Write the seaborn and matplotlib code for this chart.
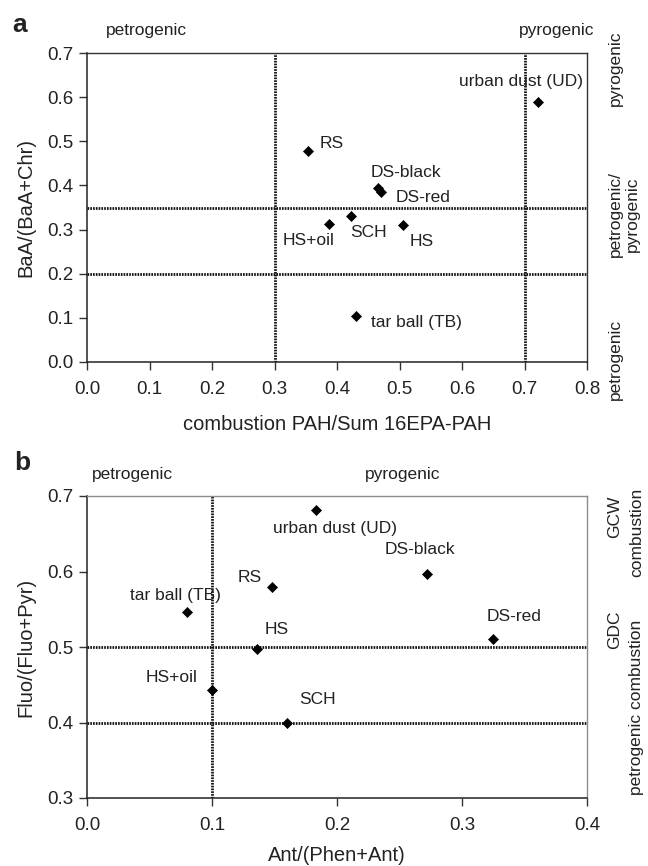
import numpy as np
import pandas as pd
import matplotlib
matplotlib.use("Agg")
import matplotlib.pyplot as plt
import seaborn as sns

samples = ['urban dust (UD)', 'RS', 'DS-black', 'DS-red', 'HS+oil', 'SCH', 'HS', 'tar ball (TB)']
# panel a
combustion_ratio = [0.722, 0.354, 0.465, 0.470, 0.387, 0.422, 0.506, 0.430]
baa_ratio = [0.590, 0.478, 0.394, 0.384, 0.313, 0.331, 0.310, 0.104]
# panel b
ant_ratio = [0.183, 0.148, 0.272, 0.325, 0.100, 0.160, 0.136, 0.080]
fluo_ratio = [0.681, 0.580, 0.597, 0.511, 0.443, 0.400, 0.498, 0.547]

# threshold lines
a_vlines = [0.3, 0.7]
a_hlines = [0.35, 0.2]
b_vlines = [0.1]
b_hlines = [0.5, 0.4]

a_xticks = [0.0, 0.1, 0.2, 0.3, 0.4, 0.5, 0.6, 0.7, 0.8]
a_yticks = [0.0, 0.1, 0.2, 0.3, 0.4, 0.5, 0.6, 0.7]
b_xticks = [0.0, 0.1, 0.2, 0.3, 0.4]
b_yticks = [0.3, 0.4, 0.5, 0.6, 0.7]

# where each sample name is written (data coords, text centre)
a_label_pos = {'urban dust (UD)': (0.694, 0.636), 'RS': (0.391, 0.496), 'DS-black': (0.511, 0.429),
               'DS-red': (0.537, 0.372), 'HS+oil': (0.354, 0.276), 'SCH': (0.450, 0.293),
               'HS': (0.535, 0.273), 'tar ball (TB)': (0.527, 0.089)}
b_label_pos = {'urban dust (UD)': (0.1987, 0.657), 'RS': (0.130, 0.592), 'DS-black': (0.266, 0.629),
               'DS-red': (0.342, 0.541), 'HS+oil': (0.068, 0.459), 'SCH': (0.184, 0.430),
               'HS': (0.152, 0.523), 'tar ball (TB)': (0.071, 0.568)}

df = pd.DataFrame({'sample': samples, 'comb': combustion_ratio, 'baa': baa_ratio,
                   'ant': ant_ratio, 'fluo': fluo_ratio})

sns.set_style("ticks")
plt.rcParams['font.family'] = ['Liberation Sans', 'DejaVu Sans']

W, H = 648, 866
fig = plt.figure(figsize=(W / 100, H / 100), dpi=100)
ax_a = fig.add_axes([87 / W, 1 - 362 / H, 500 / W, 309 / H])
ax_b = fig.add_axes([87 / W, 1 - 798 / H, 500 / W, 302 / H])

def style_axes(ax, xticks, yticks, frame_col):
    ax.set_xticks(xticks)
    ax.set_yticks(yticks)
    ax.set_xticklabels(['%.1f' % t for t in xticks])
    ax.set_yticklabels(['%.1f' % t for t in yticks])
    ax.set_xlim(xticks[0], xticks[-1])
    ax.set_ylim(yticks[0], yticks[-1])
    ax.tick_params(axis='both', direction='out', length=6, width=1, color='#333333',
                   labelsize=13.5, labelcolor='#222222')
    ax.tick_params(axis='x', pad=8)
    ax.tick_params(axis='y', pad=4)
    for s in ['left', 'bottom']:
        ax.spines[s].set_color('#222222')
        ax.spines[s].set_linewidth(1.1)
    for s in ['top', 'right']:
        ax.spines[s].set_color(frame_col)
        ax.spines[s].set_linewidth(1.0)

def draw_panel(ax, x, y, vlines, hlines, label_pos):
    for v in vlines:
        ax.axvline(v, color='#111111', lw=2.0, ls=(0, (0.6, 0.4)), zorder=1)
    for h in hlines:
        ax.axhline(h, color='#111111', lw=2.0, ls=(0, (0.6, 0.4)), zorder=1)
    sns.scatterplot(data=df, x=x, y=y, marker='D', s=26, color='black', edgecolor='black',
                    linewidth=0.5, ax=ax, zorder=3, legend=False)
    for name, (tx, ty) in label_pos.items():
        ax.text(tx, ty, name, ha='center', va='center', fontsize=12.5, color='#222222')

draw_panel(ax_a, 'comb', 'baa', a_vlines, a_hlines, a_label_pos)
style_axes(ax_a, a_xticks, a_yticks, '#333333')
ax_a.set_xlabel('combustion PAH/Sum 16EPA-PAH', fontsize=14.5, color='#222222', labelpad=12)
ax_a.set_ylabel('BaA/(BaA+Chr)', fontsize=14.5, color='#222222', labelpad=8)

draw_panel(ax_b, 'ant', 'fluo', b_vlines, b_hlines, b_label_pos)
style_axes(ax_b, b_xticks, b_yticks, '#8c8c8c')
ax_b.set_xlabel('Ant/(Phen+Ant)', fontsize=14.5, color='#222222', labelpad=8)
ax_b.set_ylabel('Fluo/(Fluo+Pyr)', fontsize=14.5, color='#222222', labelpad=8)

def fig_text(px, py, s, **kw):
    fig.text(px / W, 1 - py / H, s, ha='center', va='center', color='#222222', **kw)

# panel letters
fig_text(20, 25, 'a', fontsize=19, fontweight='bold')
fig_text(22, 463, 'b', fontsize=19, fontweight='bold')

# source regions, panel a
fig_text(146, 30, 'petrogenic', fontsize=12.5)
fig_text(557, 30, 'pyrogenic', fontsize=12.5)
fig_text(615, 68, 'pyrogenic', fontsize=12.5, rotation=90)
fig_text(624, 214, 'petrogenic/\npyrogenic', fontsize=12.5, rotation=90, multialignment='center')
fig_text(615, 359, 'petrogenic', fontsize=12.5, rotation=90)

# source regions, panel b
fig_text(132, 475, 'petrogenic', fontsize=12.5)
fig_text(403, 475, 'pyrogenic', fontsize=12.5)
fig_text(615, 517, 'GCW', fontsize=12.5, rotation=90)
fig_text(637, 532, 'combustion', fontsize=12.5, rotation=90)
fig_text(615, 630, 'GDC', fontsize=12.5, rotation=90)
fig_text(637, 707, 'petrogenic combustion', fontsize=12.5, rotation=90)

fig.savefig('out.png', dpi=100)
